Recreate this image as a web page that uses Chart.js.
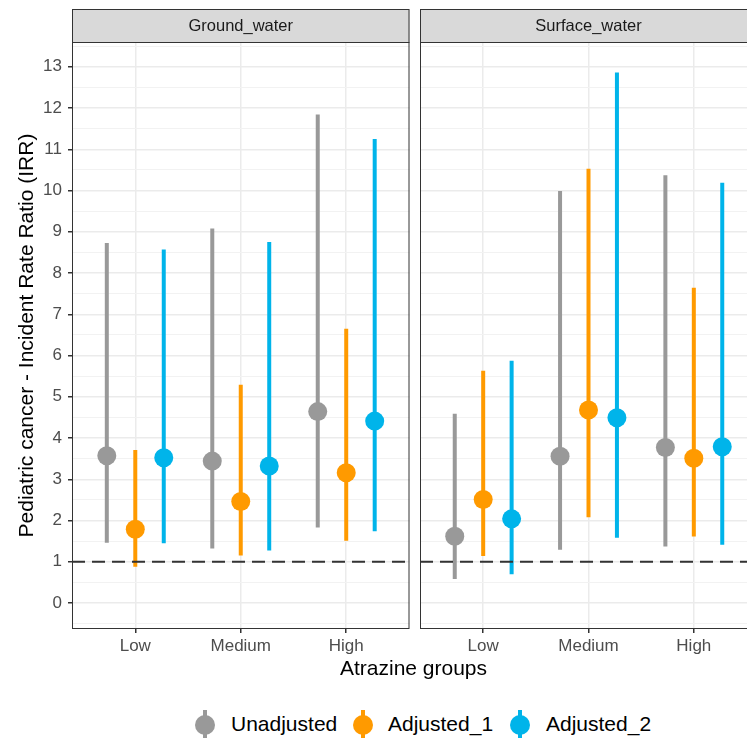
<!DOCTYPE html>
<html>
<head>
<meta charset="utf-8">
<script src="https://cdn.jsdelivr.net/npm/chart.js@4/dist/chart.umd.min.js"></script>
<style>
body { margin: 0; background: #fff; font-family: "Liberation Sans", Arial, sans-serif; }
#wrap { position: relative; width: 747px; height: 738px; overflow: hidden; }
#c1 { position: absolute; left: 0; top: 0; }
#c2 { position: absolute; left: 410px; top: 0; }
#xtitle { position: absolute; left: 0; width: 827px; top: 656px; text-align: center; font-size: 21px; color: #000; }
.key { position: absolute; top: 710px; width: 20px; height: 30px; }
.key .ln { position: absolute; left: 8px; top: 0; width: 4px; height: 30px; }
.key .dot { position: absolute; left: 0; top: 5px; width: 20px; height: 20px; border-radius: 50%; }
.lab { position: absolute; top: 711px; font-size: 21px; line-height: 26px; color: #000; }
</style>
</head>
<body>
<div id="wrap">
  <canvas id="c1" width="419" height="665"></canvas>
  <canvas id="c2" width="360" height="665"></canvas>
  <div id="xtitle">Atrazine groups</div>
  <div id="legend"></div>
</div>

<script>
var groups = ['Low', 'Medium', 'High']
var seriesNames = ['Unadjusted', 'Adjusted_1', 'Adjusted_2']
var seriesColors = ['#999999', '#FF9A00', '#00B4EA']

// Ground_water panel
var groundEst = [[3.57, 3.44, 4.64], [1.79, 2.46, 3.16], [3.52, 3.32, 4.41]]
var groundLow = [[1.46, 1.32, 1.83], [0.88, 1.15, 1.51], [1.45, 1.27, 1.74]]
var groundHigh = [[8.73, 9.08, 11.84], [3.71, 5.29, 6.65], [8.57, 8.75, 11.25]]

// Surface_water panel
var surfEst = [[1.62, 3.56, 3.77], [2.51, 4.68, 3.51], [2.04, 4.49, 3.79]]
var surfLow = [[0.58, 1.29, 1.37], [1.14, 2.08, 1.61], [0.70, 1.58, 1.41]]
var surfHigh = [[4.59, 9.99, 10.37], [5.63, 10.53, 7.64], [5.87, 12.86, 10.19]]

var refLine = 1
var dodge = 0.27

var stripPlugin = {
    id: 'strip',
    afterDraw(chart, args, opts) {
        var c = chart.ctx, a = chart.chartArea
        c.save()
        c.fillStyle = '#D9D9D9'
        c.fillRect(a.left, 9, a.right - a.left, a.top - 9)
        c.strokeStyle = '#333333'
        c.lineWidth = 1
        c.strokeRect(a.left + 0.5, 9.5, a.right - a.left - 1, a.top - 9)
        c.strokeRect(a.left + 0.5, a.top + 0.5, a.right - a.left - 1, a.bottom - a.top - 1)
        c.fillStyle = '#1A1A1A'
        c.font = '16.5px "Liberation Sans", Arial, sans-serif'
        c.textAlign = 'center'
        c.textBaseline = 'middle'
        c.fillText(opts.text, (a.left + a.right) / 2, (a.top + 9) / 2 + 1)
        c.restore()
    }
}

function makePanel(id, title, est, lo, hi, showY) {
    var datasets = []
    for (let k = 0; k < seriesNames.length; k++) {
        var off = (k - 1) * dodge
        var seg = []
        var pts = []
        for (let i = 0; i < groups.length; i++) {
            seg.push({x: i + off, y: lo[k][i]}, {x: i + off, y: hi[k][i]}, {x: i + off, y: null})
            pts.push({x: i + off, y: est[k][i]})
        }
        datasets.push({
            label: seriesNames[k] + ' CI', data: seg, showLine: true, spanGaps: false,
            borderColor: seriesColors[k], borderWidth: 4, pointRadius: 0, order: 3
        })
        datasets.push({
            label: seriesNames[k], data: pts, showLine: false,
            backgroundColor: seriesColors[k], borderWidth: 0, pointRadius: 9.5, order: 2
        })
    }
    datasets.push({
        label: 'ref', data: [{x: -0.6, y: refLine}, {x: 2.6, y: refLine}], showLine: true,
        borderColor: '#333333', borderWidth: 2, borderDash: [13, 7], pointRadius: 0, order: 1
    })

    var isInt = v => Math.abs(v - Math.round(v)) < 1e-6

    return new Chart(document.getElementById(id).getContext('2d'), {
        type: 'scatter',
        data: { datasets: datasets },
        options: {
            responsive: false,
            animation: false,
            devicePixelRatio: 1,
            layout: { padding: showY ? {left: 0, top: 42, right: 2, bottom: 0} : {left: 10, top: 42, right: 13, bottom: 0} },
            plugins: {
                legend: { display: false },
                tooltip: { enabled: false },
                strip: { text: title }
            },
            scales: {
                x: {
                    type: 'linear', min: -0.6, max: 2.6,
                    afterFit(s) { s.height = 36 },
                    border: { display: false },
                    grid: { color: '#EBEBEB', lineWidth: 1.5, tickLength: 4, tickColor: '#333333' },
                    ticks: {
                        stepSize: 1, includeBounds: false, autoSkip: false, maxRotation: 0,
                        padding: 3, color: '#4D4D4D',
                        font: { size: 17, family: '"Liberation Sans", Arial, sans-serif' },
                        callback: v => isInt(v) ? groups[Math.round(v)] : ''
                    }
                },
                y: {
                    min: -0.63, max: 13.6,
                    afterFit(s) { s.width = showY ? 72 : 0 },
                    border: { display: false },
                    grid: {
                        color: ctx => isInt(ctx.tick.value) ? '#EBEBEB' : '#F2F2F2',
                        lineWidth: ctx => isInt(ctx.tick.value) ? 1.5 : 1,
                        drawTicks: showY,
                        tickLength: showY ? 4 : 0,
                        tickColor: ctx => isInt(ctx.tick.value) ? '#333333' : 'rgba(0,0,0,0)'
                    },
                    ticks: {
                        display: showY, stepSize: 0.5, includeBounds: false, autoSkip: false,
                        padding: 6, color: '#4D4D4D',
                        font: { size: 17, family: '"Liberation Sans", Arial, sans-serif' },
                        callback: v => isInt(v) ? Math.round(v) : ''
                    },
                    title: {
                        display: showY, text: 'Pediatric cancer - Incident Rate Ratio (IRR)',
                        color: '#000', padding: {top: 15, bottom: 0},
                        font: { size: 21, family: '"Liberation Sans", Arial, sans-serif' }
                    }
                }
            }
        },
        plugins: [stripPlugin]
    })
}

makePanel('c1', 'Ground_water', groundEst, groundLow, groundHigh, true)
makePanel('c2', 'Surface_water', surfEst, surfLow, surfHigh, false)

// legend
var keyX = [195, 353, 510]
var labX = [231, 388, 546]
var leg = document.getElementById('legend')
for (let k = 0; k < seriesNames.length; k++) {
    var key = document.createElement('div')
    key.className = 'key'
    key.style.left = keyX[k] + 'px'
    key.innerHTML = '<div class="ln" style="background:' + seriesColors[k] + '"></div><div class="dot" style="background:' + seriesColors[k] + '"></div>'
    leg.appendChild(key)
    var lab = document.createElement('div')
    lab.className = 'lab'
    lab.style.left = labX[k] + 'px'
    lab.textContent = seriesNames[k]
    leg.appendChild(lab)
}
</script>
</body>
</html>
